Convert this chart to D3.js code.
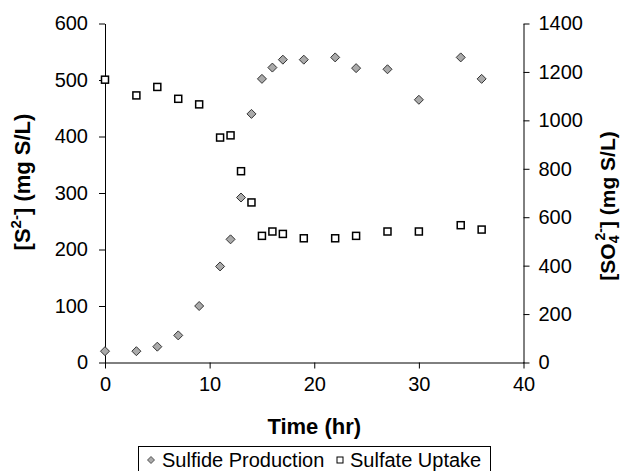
<!DOCTYPE html>
<html>
<head>
<meta charset="utf-8">
<script src="https://cdn.jsdelivr.net/npm/d3@7"></script>
<style>
  html, body { margin: 0; padding: 0; background: #fff; }
  svg { display: block; font-family: Arial, "Liberation Sans", sans-serif; }
</style>
</head>
<body>
<svg id="chart" width="624" height="471"></svg>
<script>
// Sulfide production (left axis, mg S/L) and sulfate uptake (right axis, mg S/L) over time
const sulfideTime = [0, 3, 5, 7, 9, 11, 12, 13, 14, 15, 16, 17, 19, 22, 24, 27, 30, 34, 36];
const sulfideValues = [20, 20, 28, 48, 100, 170, 218, 292, 440, 502, 522, 536, 536, 540, 521, 519, 465, 540, 502];
const sulfateTime = [0, 3, 5, 7, 9, 11, 12, 13, 14, 15, 16, 17, 19, 22, 24, 27, 30, 34, 36];
const sulfateValues = [1168, 1103, 1138, 1089, 1066, 929, 938, 790, 661, 523, 541, 531, 513, 513, 523, 541, 541, 567, 549];
const xTicks = [0, 10, 20, 30, 40];
const leftTicks = [0, 100, 200, 300, 400, 500, 600];
const rightTicks = [0, 200, 400, 600, 800, 1000, 1200, 1400];
const seriesNames = ["Sulfide Production", "Sulfate Uptake"];

const svg = d3.select("#chart");
const plotLeft = 105, plotRight = 523.5, plotTop = 23.5, plotBottom = 362.5;

const x = d3.scaleLinear().domain([0, 40]).range([plotLeft, plotRight]);
const yL = d3.scaleLinear().domain([0, 600]).range([plotBottom, plotTop]);
const yR = d3.scaleLinear().domain([0, 1400]).range([plotBottom, plotTop]);

function styleAxis(g) {
  g.selectAll("path, line").attr("stroke", "#000").attr("stroke-width", 1);
  g.selectAll("text").attr("fill", "#000").style("font-size", "20px")
    .style("font-family", "Arial, 'Liberation Sans', sans-serif");
}

const plain = d3.format("d");

svg.append("g").attr("transform", `translate(0,${plotBottom})`)
  .call(d3.axisBottom(x).tickValues(xTicks).tickFormat(plain)
    .tickSizeInner(6).tickSizeOuter(0).tickPadding(8))
  .call(styleAxis);

svg.append("g").attr("transform", `translate(${plotLeft},0)`)
  .call(d3.axisLeft(yL).tickValues(leftTicks).tickFormat(plain)
    .tickSizeInner(6).tickSizeOuter(0).tickPadding(11))
  .call(styleAxis);

svg.append("g").attr("transform", `translate(${plotRight},0)`)
  .call(d3.axisRight(yR).tickValues(rightTicks).tickFormat(plain)
    .tickSizeInner(6).tickSizeOuter(0).tickPadding(9))
  .call(styleAxis);

// Axis titles
svg.append("text")
  .attr("x", x(20)).attr("y", 434)
  .attr("text-anchor", "middle")
  .style("font-size", "22px").style("font-weight", "bold")
  .text("Time (hr)");

const leftTitle = svg.append("text")
  .attr("transform", `translate(30,${(plotTop + plotBottom) / 2 - 11}) rotate(-90)`)
  .attr("text-anchor", "middle")
  .style("font-size", "22px").style("font-weight", "bold");
leftTitle.append("tspan").text("[S");
leftTitle.append("tspan").attr("dy", -9).style("font-size", "15px").text("2-");
leftTitle.append("tspan").attr("dy", 9).text("] (mg S/L)");

const rightTitle = svg.append("text")
  .attr("transform", `translate(615,${(plotTop + plotBottom) / 2 + 13}) rotate(-90)`)
  .attr("text-anchor", "middle")
  .style("font-size", "21px").style("font-weight", "bold");
rightTitle.append("tspan").text("[SO");
rightTitle.append("tspan").attr("dy", 4).style("font-size", "14px").text("4");
rightTitle.append("tspan").attr("dx", -5).attr("dy", -14).style("font-size", "14px").text("2-");
rightTitle.append("tspan").attr("dy", 10).text("] (mg S/L)");

// Sulfate uptake: open squares
const sq = 7;
svg.append("g").selectAll("rect")
  .data(d3.zip(sulfateTime, sulfateValues))
  .join("rect")
  .attr("x", d => x(d[0]) - sq / 2)
  .attr("y", d => yR(d[1]) - sq / 2)
  .attr("width", sq).attr("height", sq)
  .attr("fill", "#fff").attr("stroke", "#000").attr("stroke-width", 1.5);

// Sulfide production: grey diamonds
const diamond = (cx, cy, r) => `M${cx},${cy - r}L${cx + r},${cy}L${cx},${cy + r}L${cx - r},${cy}Z`;
svg.append("g").selectAll("path")
  .data(d3.zip(sulfideTime, sulfideValues))
  .join("path")
  .attr("d", d => diamond(x(d[0]), yL(d[1]), 4.5))
  .attr("fill", "#aaaaaa").attr("stroke", "#333").attr("stroke-width", 1);

// Legend
const legend = svg.append("g");
legend.append("rect")
  .attr("x", 138.5).attr("y", 446.5).attr("width", 352).attr("height", 26)
  .attr("fill", "#fff").attr("stroke", "#000").attr("stroke-width", 1);
legend.append("path")
  .attr("d", diamond(151, 460, 3.5))
  .attr("fill", "#aaaaaa").attr("stroke", "#333").attr("stroke-width", 0.8);
legend.append("text").attr("x", 162).attr("y", 467)
  .style("font-size", "20px").text(seriesNames[0]);
legend.append("rect")
  .attr("x", 337).attr("y", 457).attr("width", 6).attr("height", 6)
  .attr("fill", "#fff").attr("stroke", "#000").attr("stroke-width", 1);
legend.append("text").attr("x", 350).attr("y", 467)
  .style("font-size", "20px").text(seriesNames[1]);
</script>
</body>
</html>
